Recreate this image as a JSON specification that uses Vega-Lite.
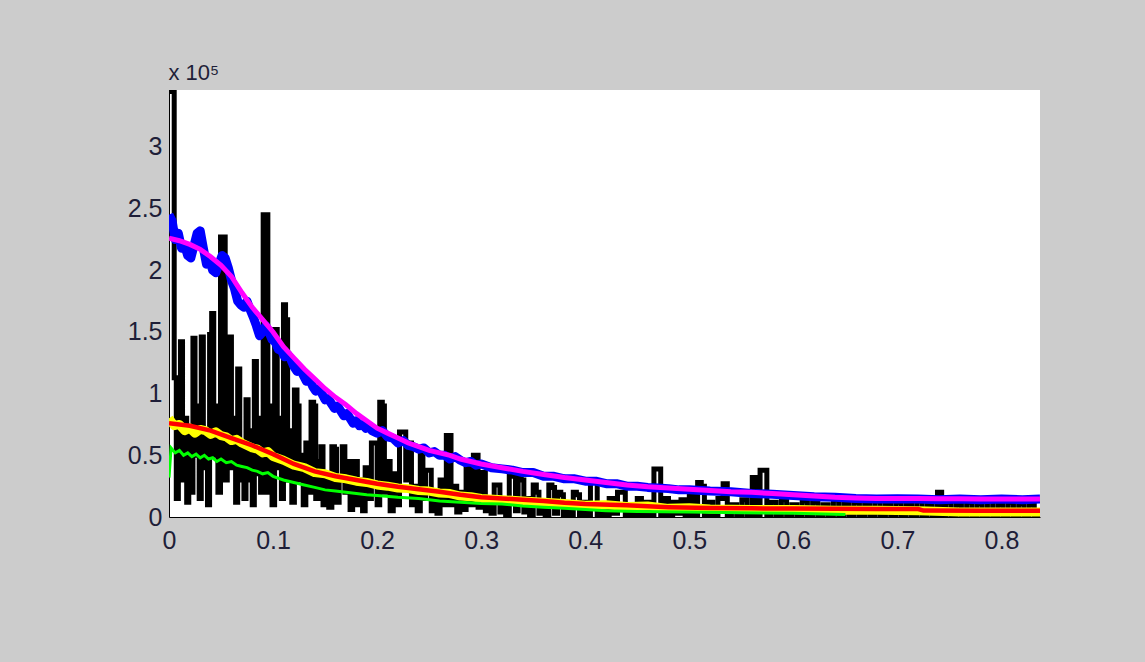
{
  "$schema": "https://vega.github.io/schema/vega-lite/v6.json",
  "width": 871,
  "height": 427,
  "autosize": {"type": "none"},
  "padding": {"left": 169, "top": 90, "right": 105, "bottom": 145},
  "background": "#cccccc",
  "config": {
    "view": {"fill": "#ffffff", "stroke": null},
    "font": "Liberation Sans"
  },
  "datasets": {
    "black": [
      {"x":0.000,"y":345000},{"x":0.002,"y":345000},{"x":0.004,"y":345000},{"x":0.006,"y":113000},{"x":0.008,"y":15000},{"x":0.010,"y":90000},{"x":0.012,"y":142000},{"x":0.014,"y":30000},{"x":0.016,"y":80000},{"x":0.018,"y":12000},{"x":0.020,"y":70000},{"x":0.022,"y":20000},{"x":0.024,"y":145000},{"x":0.026,"y":50000},{"x":0.028,"y":90000},{"x":0.030,"y":15000},{"x":0.032,"y":146000},{"x":0.034,"y":40000},{"x":0.036,"y":70000},{"x":0.038,"y":10000},{"x":0.040,"y":148000},{"x":0.042,"y":165000},{"x":0.044,"y":50000},{"x":0.046,"y":90000},{"x":0.048,"y":20000},{"x":0.051,"y":227000},{"x":0.053,"y":227000},{"x":0.055,"y":30000},{"x":0.057,"y":110000},{"x":0.059,"y":146000},{"x":0.061,"y":40000},{"x":0.063,"y":80000},{"x":0.065,"y":12000},{"x":0.067,"y":120000},{"x":0.069,"y":30000},{"x":0.071,"y":60000},{"x":0.073,"y":15000},{"x":0.075,"y":95000},{"x":0.077,"y":30000},{"x":0.079,"y":70000},{"x":0.081,"y":10000},{"x":0.083,"y":126000},{"x":0.085,"y":35000},{"x":0.087,"y":80000},{"x":0.089,"y":20000},{"x":0.092,"y":245000},{"x":0.094,"y":245000},{"x":0.096,"y":20000},{"x":0.098,"y":90000},{"x":0.100,"y":10000},{"x":0.103,"y":152000},{"x":0.105,"y":40000},{"x":0.107,"y":80000},{"x":0.109,"y":15000},{"x":0.111,"y":172000},{"x":0.113,"y":160000},{"x":0.115,"y":30000},{"x":0.117,"y":70000},{"x":0.119,"y":12000},{"x":0.122,"y":103000},{"x":0.124,"y":90000},{"x":0.126,"y":30000},{"x":0.128,"y":50000},{"x":0.130,"y":10000},{"x":0.133,"y":60000},{"x":0.135,"y":20000},{"x":0.138,"y":93000},{"x":0.140,"y":90000},{"x":0.142,"y":15000},{"x":0.145,"y":45000},{"x":0.147,"y":57000},{"x":0.149,"y":10000},{"x":0.152,"y":35000},{"x":0.155,"y":8000},{"x":0.158,"y":57000},{"x":0.160,"y":55000},{"x":0.162,"y":12000},{"x":0.165,"y":30000},{"x":0.168,"y":57000},{"x":0.170,"y":20000},{"x":0.173,"y":45000},{"x":0.175,"y":6000},{"x":0.178,"y":45000},{"x":0.180,"y":45000},{"x":0.182,"y":10000},{"x":0.185,"y":30000},{"x":0.187,"y":5000},{"x":0.190,"y":40000},{"x":0.193,"y":15000},{"x":0.196,"y":60000},{"x":0.199,"y":60000},{"x":0.201,"y":10000},{"x":0.204,"y":93000},{"x":0.206,"y":90000},{"x":0.208,"y":20000},{"x":0.211,"y":45000},{"x":0.214,"y":5000},{"x":0.217,"y":35000},{"x":0.220,"y":10000},{"x":0.223,"y":69000},{"x":0.226,"y":69000},{"x":0.229,"y":30000},{"x":0.232,"y":60000},{"x":0.234,"y":10000},{"x":0.237,"y":25000},{"x":0.240,"y":5000},{"x":0.243,"y":52000},{"x":0.245,"y":15000},{"x":0.248,"y":38000},{"x":0.251,"y":38000},{"x":0.253,"y":5000},{"x":0.256,"y":20000},{"x":0.259,"y":3000},{"x":0.262,"y":30000},{"x":0.265,"y":10000},{"x":0.268,"y":66000},{"x":0.270,"y":66000},{"x":0.272,"y":10000},{"x":0.275,"y":25000},{"x":0.278,"y":4000},{"x":0.281,"y":20000},{"x":0.284,"y":6000},{"x":0.287,"y":40000},{"x":0.289,"y":40000},{"x":0.291,"y":10000},{"x":0.294,"y":50000},{"x":0.296,"y":50000},{"x":0.298,"y":8000},{"x":0.301,"y":36000},{"x":0.303,"y":36000},{"x":0.305,"y":5000},{"x":0.308,"y":15000},{"x":0.311,"y":3000},{"x":0.314,"y":26000},{"x":0.317,"y":26000},{"x":0.319,"y":4000},{"x":0.322,"y":12000},{"x":0.325,"y":2000},{"x":0.329,"y":33000},{"x":0.332,"y":33000},{"x":0.334,"y":5000},{"x":0.337,"y":33000},{"x":0.340,"y":30000},{"x":0.342,"y":4000},{"x":0.345,"y":15000},{"x":0.348,"y":2000},{"x":0.352,"y":26000},{"x":0.354,"y":20000},{"x":0.357,"y":3000},{"x":0.360,"y":10000},{"x":0.363,"y":2000},{"x":0.367,"y":26000},{"x":0.369,"y":24000},{"x":0.372,"y":3000},{"x":0.375,"y":20000},{"x":0.378,"y":18000},{"x":0.380,"y":2000},{"x":0.384,"y":10000},{"x":0.387,"y":1000},{"x":0.390,"y":20000},{"x":0.393,"y":18000},{"x":0.396,"y":2000},{"x":0.400,"y":12000},{"x":0.403,"y":1000},{"x":0.407,"y":30000},{"x":0.410,"y":28000},{"x":0.413,"y":2000},{"x":0.417,"y":10000},{"x":0.421,"y":1000},{"x":0.425,"y":15000},{"x":0.429,"y":3000},{"x":0.433,"y":20000},{"x":0.437,"y":20000},{"x":0.440,"y":2000},{"x":0.444,"y":10000},{"x":0.448,"y":1000},{"x":0.452,"y":15000},{"x":0.456,"y":2000},{"x":0.460,"y":12000},{"x":0.464,"y":1000},{"x":0.468,"y":39000},{"x":0.471,"y":39000},{"x":0.474,"y":2000},{"x":0.478,"y":15000},{"x":0.482,"y":1000},{"x":0.486,"y":12000},{"x":0.490,"y":3000},{"x":0.494,"y":14000},{"x":0.498,"y":1000},{"x":0.502,"y":18000},{"x":0.506,"y":2000},{"x":0.510,"y":28000},{"x":0.513,"y":25000},{"x":0.516,"y":1000},{"x":0.520,"y":12000},{"x":0.525,"y":2000},{"x":0.530,"y":15000},{"x":0.535,"y":27000},{"x":0.538,"y":2000},{"x":0.543,"y":10000},{"x":0.548,"y":1000},{"x":0.553,"y":14000},{"x":0.558,"y":2000},{"x":0.563,"y":32000},{"x":0.566,"y":2000},{"x":0.570,"y":38000},{"x":0.573,"y":38000},{"x":0.576,"y":2000},{"x":0.581,"y":12000},{"x":0.586,"y":1000},{"x":0.591,"y":14000},{"x":0.596,"y":2000},{"x":0.601,"y":10000},{"x":0.606,"y":1000},{"x":0.611,"y":13000},{"x":0.616,"y":2000},{"x":0.621,"y":12000},{"x":0.626,"y":1000},{"x":0.631,"y":10000},{"x":0.636,"y":2000},{"x":0.641,"y":14000},{"x":0.646,"y":1000},{"x":0.651,"y":11000},{"x":0.656,"y":2000},{"x":0.661,"y":12000},{"x":0.666,"y":1000},{"x":0.671,"y":10000},{"x":0.676,"y":2000},{"x":0.681,"y":13000},{"x":0.686,"y":1000},{"x":0.691,"y":10000},{"x":0.696,"y":2000},{"x":0.701,"y":12000},{"x":0.706,"y":1000},{"x":0.711,"y":10000},{"x":0.716,"y":2000},{"x":0.721,"y":13000},{"x":0.726,"y":1000},{"x":0.731,"y":10000},{"x":0.736,"y":2000},{"x":0.741,"y":20000},{"x":0.744,"y":2000},{"x":0.749,"y":12000},{"x":0.754,"y":1000},{"x":0.759,"y":10000},{"x":0.764,"y":2000},{"x":0.769,"y":12000},{"x":0.774,"y":1000},{"x":0.779,"y":11000},{"x":0.784,"y":2000},{"x":0.789,"y":13000},{"x":0.794,"y":1000},{"x":0.799,"y":10000},{"x":0.804,"y":2000},{"x":0.809,"y":12000},{"x":0.814,"y":1000},{"x":0.819,"y":11000},{"x":0.824,"y":2000},{"x":0.829,"y":10000},{"x":0.834,"y":1000},{"x":0.837,"y":5000}
    ],
    "blue": [
      {"x":0.000,"y":245000},{"x":0.003,"y":240000},{"x":0.006,"y":225000},{"x":0.009,"y":230000},{"x":0.012,"y":218000},{"x":0.015,"y":220000},{"x":0.018,"y":212000},{"x":0.021,"y":210000},{"x":0.024,"y":220000},{"x":0.027,"y":230000},{"x":0.030,"y":232000},{"x":0.033,"y":218000},{"x":0.036,"y":205000},{"x":0.039,"y":208000},{"x":0.042,"y":200000},{"x":0.045,"y":198000},{"x":0.048,"y":205000},{"x":0.051,"y":212000},{"x":0.054,"y":210000},{"x":0.057,"y":202000},{"x":0.060,"y":192000},{"x":0.063,"y":185000},{"x":0.066,"y":175000},{"x":0.069,"y":172000},{"x":0.072,"y":170000},{"x":0.075,"y":175000},{"x":0.078,"y":168000},{"x":0.081,"y":162000},{"x":0.084,"y":155000},{"x":0.087,"y":147000},{"x":0.090,"y":150000},{"x":0.093,"y":155000},{"x":0.096,"y":150000},{"x":0.099,"y":144000},{"x":0.102,"y":142000},{"x":0.105,"y":136000},{"x":0.108,"y":135000},{"x":0.111,"y":130000},{"x":0.114,"y":132000},{"x":0.117,"y":128000},{"x":0.120,"y":122000},{"x":0.123,"y":118000},{"x":0.126,"y":120000},{"x":0.129,"y":115000},{"x":0.132,"y":110000},{"x":0.135,"y":112000},{"x":0.138,"y":106000},{"x":0.141,"y":102000},{"x":0.144,"y":104000},{"x":0.147,"y":100000},{"x":0.150,"y":95000},{"x":0.153,"y":96000},{"x":0.156,"y":92000},{"x":0.159,"y":88000},{"x":0.162,"y":90000},{"x":0.165,"y":86000},{"x":0.168,"y":82000},{"x":0.171,"y":84000},{"x":0.174,"y":80000},{"x":0.177,"y":76000},{"x":0.180,"y":78000},{"x":0.183,"y":74000},{"x":0.186,"y":75000},{"x":0.189,"y":72000},{"x":0.192,"y":74000},{"x":0.195,"y":70000},{"x":0.200,"y":68000},{"x":0.205,"y":70000},{"x":0.210,"y":65000},{"x":0.215,"y":64000},{"x":0.220,"y":60000},{"x":0.225,"y":62000},{"x":0.230,"y":58000},{"x":0.235,"y":57000},{"x":0.240,"y":55000},{"x":0.245,"y":56000},{"x":0.250,"y":52000},{"x":0.255,"y":53000},{"x":0.260,"y":50000},{"x":0.265,"y":50000},{"x":0.270,"y":47000},{"x":0.275,"y":49000},{"x":0.280,"y":46000},{"x":0.285,"y":44000},{"x":0.290,"y":45000},{"x":0.295,"y":42000},{"x":0.300,"y":43000},{"x":0.310,"y":40000},{"x":0.320,"y":39000},{"x":0.330,"y":38000},{"x":0.340,"y":36000},{"x":0.350,"y":36000},{"x":0.360,"y":33000},{"x":0.370,"y":33000},{"x":0.380,"y":31000},{"x":0.390,"y":31000},{"x":0.400,"y":29000},{"x":0.410,"y":29000},{"x":0.420,"y":27000},{"x":0.430,"y":27000},{"x":0.440,"y":25000},{"x":0.450,"y":25000},{"x":0.460,"y":24000},{"x":0.470,"y":23500},{"x":0.480,"y":23000},{"x":0.490,"y":22000},{"x":0.500,"y":22000},{"x":0.520,"y":21000},{"x":0.540,"y":20500},{"x":0.560,"y":19000},{"x":0.580,"y":18500},{"x":0.600,"y":17500},{"x":0.620,"y":16500},{"x":0.640,"y":16000},{"x":0.660,"y":15000},{"x":0.680,"y":14500},{"x":0.700,"y":14800},{"x":0.720,"y":14500},{"x":0.740,"y":14000},{"x":0.760,"y":14500},{"x":0.780,"y":14000},{"x":0.800,"y":14500},{"x":0.820,"y":14000},{"x":0.837,"y":14500}
    ],
    "magenta": [
      {"x":0.00,"y":226000},{"x":0.01,"y":224000},{"x":0.02,"y":221000},{"x":0.03,"y":217000},{"x":0.04,"y":211000},{"x":0.05,"y":204000},{"x":0.06,"y":195000},{"x":0.07,"y":182000},{"x":0.08,"y":170000},{"x":0.09,"y":160000},{"x":0.10,"y":150000},{"x":0.11,"y":138000},{"x":0.12,"y":129000},{"x":0.13,"y":120000},{"x":0.14,"y":112000},{"x":0.15,"y":104000},{"x":0.16,"y":97000},{"x":0.17,"y":91000},{"x":0.18,"y":84000},{"x":0.19,"y":78000},{"x":0.20,"y":72000},{"x":0.21,"y":68000},{"x":0.22,"y":64000},{"x":0.23,"y":60000},{"x":0.24,"y":57000},{"x":0.25,"y":54000},{"x":0.26,"y":52000},{"x":0.27,"y":50000},{"x":0.28,"y":47000},{"x":0.29,"y":45000},{"x":0.30,"y":43000},{"x":0.32,"y":40000},{"x":0.34,"y":37000},{"x":0.36,"y":34500},{"x":0.38,"y":32000},{"x":0.40,"y":30000},{"x":0.42,"y":28000},{"x":0.44,"y":26000},{"x":0.46,"y":24500},{"x":0.48,"y":23500},{"x":0.50,"y":22500},{"x":0.52,"y":21500},{"x":0.54,"y":20500},{"x":0.56,"y":20000},{"x":0.58,"y":19000},{"x":0.60,"y":18000},{"x":0.62,"y":17000},{"x":0.64,"y":16000},{"x":0.66,"y":15500},{"x":0.68,"y":15000},{"x":0.70,"y":15000},{"x":0.72,"y":15000},{"x":0.74,"y":14800},{"x":0.76,"y":14700},{"x":0.78,"y":14600},{"x":0.80,"y":14500},{"x":0.837,"y":14500}
    ],
    "yellow": [
      {"x":0.000,"y":80000},{"x":0.005,"y":74000},{"x":0.010,"y":75000},{"x":0.015,"y":70000},{"x":0.020,"y":72000},{"x":0.025,"y":68000},{"x":0.030,"y":71000},{"x":0.035,"y":70000},{"x":0.040,"y":67000},{"x":0.045,"y":69000},{"x":0.050,"y":66000},{"x":0.055,"y":65000},{"x":0.060,"y":62000},{"x":0.065,"y":63000},{"x":0.070,"y":60000},{"x":0.075,"y":58000},{"x":0.080,"y":56000},{"x":0.085,"y":55000},{"x":0.090,"y":52000},{"x":0.095,"y":53000},{"x":0.100,"y":49000},{"x":0.110,"y":46000},{"x":0.120,"y":42000},{"x":0.130,"y":40000},{"x":0.140,"y":36000},{"x":0.150,"y":35000},{"x":0.160,"y":32000},{"x":0.170,"y":31000},{"x":0.180,"y":29000},{"x":0.190,"y":28000},{"x":0.200,"y":26000},{"x":0.210,"y":25000},{"x":0.220,"y":23500},{"x":0.230,"y":23000},{"x":0.240,"y":21500},{"x":0.250,"y":21000},{"x":0.260,"y":19500},{"x":0.270,"y":19000},{"x":0.280,"y":17000},{"x":0.290,"y":16500},{"x":0.300,"y":15000},{"x":0.320,"y":14000},{"x":0.340,"y":13000},{"x":0.360,"y":12000},{"x":0.380,"y":11000},{"x":0.400,"y":9500},{"x":0.420,"y":10000},{"x":0.440,"y":8500},{"x":0.460,"y":9000},{"x":0.480,"y":7000},{"x":0.500,"y":7500},{"x":0.520,"y":6500},{"x":0.560,"y":6000},{"x":0.600,"y":6000},{"x":0.640,"y":5500},{"x":0.680,"y":5500},{"x":0.720,"y":5000},{"x":0.760,"y":4000},{"x":0.800,"y":4000},{"x":0.837,"y":4000}
    ],
    "red": [
      {"x":0.00,"y":76000},{"x":0.02,"y":74000},{"x":0.04,"y":70000},{"x":0.06,"y":64000},{"x":0.08,"y":58000},{"x":0.10,"y":51000},{"x":0.12,"y":43000},{"x":0.14,"y":37000},{"x":0.16,"y":33000},{"x":0.18,"y":30000},{"x":0.20,"y":27000},{"x":0.22,"y":24500},{"x":0.24,"y":22500},{"x":0.26,"y":20500},{"x":0.28,"y":18000},{"x":0.30,"y":16000},{"x":0.32,"y":15000},{"x":0.34,"y":14000},{"x":0.36,"y":13000},{"x":0.38,"y":11500},{"x":0.40,"y":10500},{"x":0.44,"y":9500},{"x":0.48,"y":8000},{"x":0.52,"y":7200},{"x":0.56,"y":7000},{"x":0.60,"y":6800},{"x":0.64,"y":6600},{"x":0.68,"y":6500},{"x":0.72,"y":6400},{"x":0.725,"y":5200},{"x":0.78,"y":5000},{"x":0.837,"y":5000}
    ],
    "green": [
      {"x":0.000,"y":32000},{"x":0.002,"y":56000},{"x":0.006,"y":52000},{"x":0.010,"y":54000},{"x":0.014,"y":50000},{"x":0.018,"y":52000},{"x":0.022,"y":49000},{"x":0.026,"y":51000},{"x":0.030,"y":48000},{"x":0.034,"y":50000},{"x":0.038,"y":47000},{"x":0.042,"y":48000},{"x":0.046,"y":45000},{"x":0.050,"y":47000},{"x":0.055,"y":44000},{"x":0.060,"y":45000},{"x":0.065,"y":42000},{"x":0.070,"y":41000},{"x":0.075,"y":40000},{"x":0.080,"y":38000},{"x":0.085,"y":37000},{"x":0.090,"y":35000},{"x":0.095,"y":36000},{"x":0.100,"y":33000},{"x":0.110,"y":30000},{"x":0.120,"y":28000},{"x":0.130,"y":26000},{"x":0.140,"y":24000},{"x":0.150,"y":22000},{"x":0.160,"y":21000},{"x":0.170,"y":20000},{"x":0.180,"y":19000},{"x":0.190,"y":18000},{"x":0.200,"y":17500},{"x":0.220,"y":16000},{"x":0.240,"y":15000},{"x":0.260,"y":13000},{"x":0.280,"y":12000},{"x":0.300,"y":11000},{"x":0.320,"y":10500},{"x":0.340,"y":9000},{"x":0.360,"y":8000},{"x":0.380,"y":7000},{"x":0.400,"y":6000},{"x":0.420,"y":5000},{"x":0.450,"y":4500},{"x":0.500,"y":4000},{"x":0.550,"y":3500},{"x":0.600,"y":3000},{"x":0.650,"y":2000}
    ]
  },
  "encoding": {
    "x": {
      "field": "x", "type": "quantitative",
      "scale": {"domain": [0, 0.837], "nice": false, "zero": false},
      "axis": {
        "values": [0, 0.1, 0.2, 0.3, 0.4, 0.5, 0.6, 0.7, 0.8],
        "labelExpr": "datum.value === 0 ? '0' : format(datum.value, '.1f')",
        "title": null, "grid": false, "ticks": false,
        "domain": true, "domainColor": "#000000", "domainWidth": 1,
        "labelFont": "Liberation Sans", "labelFontSize": 25, "labelColor": "#1e1e38",
        "labelPadding": 11, "labelFlush": false, "labelOverlap": false
      }
    },
    "y": {
      "field": "y", "type": "quantitative",
      "scale": {"domain": [0, 346200], "nice": false},
      "axis": {
        "values": [0, 50000, 100000, 150000, 200000, 250000, 300000],
        "labelExpr": "format(datum.value / 100000, '~g')",
        "title": "x 10⁵", "titleAngle": 0, "titleAlign": "left", "titleBaseline": "alphabetic",
        "titleX": -1, "titleY": -11, "titleFont": "Liberation Sans", "titleFontSize": 22,
        "titleFontWeight": "normal", "titleColor": "#1e1e38",
        "grid": false, "ticks": false,
        "domain": true, "domainColor": "#000000", "domainWidth": 1,
        "labelFont": "Liberation Sans", "labelFontSize": 25, "labelColor": "#1e1e38",
        "labelPadding": 7, "labelFlush": false, "labelOverlap": false
      }
    }
  },
  "layer": [
    {"data": {"name": "black"}, "mark": {"type": "line", "color": "#000000", "strokeWidth": 5, "interpolate": "step", "strokeJoin": "miter", "strokeCap": "square", "clip": true}},
    {"data": {"name": "blue"}, "mark": {"type": "line", "color": "#0000ff", "strokeWidth": 9, "strokeJoin": "round", "clip": true}},
    {"data": {"name": "magenta"}, "mark": {"type": "line", "color": "#ff00ff", "strokeWidth": 5, "clip": true}},
    {"data": {"name": "yellow"}, "mark": {"type": "line", "color": "#ffff00", "strokeWidth": 9, "strokeJoin": "round", "clip": true}},
    {"data": {"name": "red"}, "mark": {"type": "line", "color": "#ff0000", "strokeWidth": 4.5, "clip": true}},
    {"data": {"name": "green"}, "mark": {"type": "line", "color": "#00ff00", "strokeWidth": 3, "clip": true}}
  ]
}
